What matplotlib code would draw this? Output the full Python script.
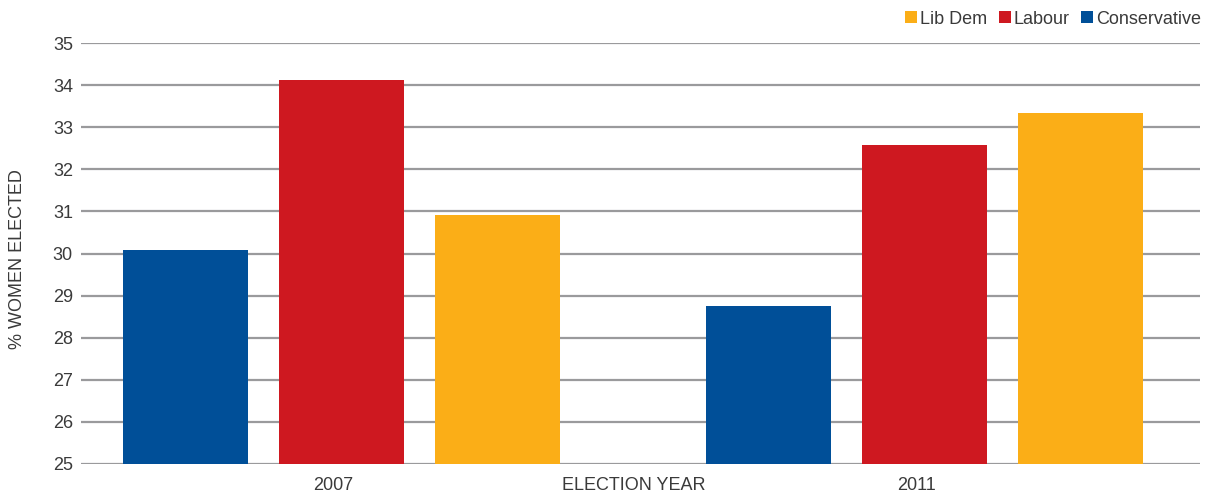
import matplotlib
matplotlib.use("Agg")
import matplotlib.pyplot as plt
from matplotlib.patches import Patch
import numpy as np

plt.rcParams['font.family'] = ['Liberation Sans', 'DejaVu Sans']

years = ['2007', '2011']
series = ['Conservative', 'Labour', 'Lib Dem']
conservative = [30.08, 28.75]
labour = [34.12, 32.58]
libdem = [30.91, 33.34]
yticks = list(range(25, 36))
colors = {'Conservative': '#004F98', 'Labour': '#CE1820', 'Lib Dem': '#FBAE17'}
values = {'Conservative': conservative, 'Labour': labour, 'Lib Dem': libdem}

TXT = '#3a3a3a'
FS = 13
fig = plt.figure(figsize=(12.15, 4.92), dpi=100)
ax = fig.add_axes([81/1215, 1-464/492, (1200-81)/1215, (464-43)/492])

x = np.arange(len(years))
offset = 0.2676
width = 0.2144
for i, s in enumerate(series):
    ax.bar(x + (i-1)*offset, [v-25 for v in values[s]], bottom=25, width=width,
           color=colors[s], zorder=3, linewidth=0)

ax.set_xlim(-0.4468, 1.4726)
ax.set_ylim(25, 35)
ax.set_yticks(yticks)
ax.set_yticklabels([str(t) for t in yticks], fontsize=FS, color=TXT)
ax.set_xticks(x - 0.014)
ax.set_xticklabels(years, fontsize=FS, color=TXT)
ax.tick_params(axis='both', length=0)
ax.tick_params(axis='y', pad=5.8)
ax.tick_params(axis='x', pad=9.2)
for sp in ax.spines.values():
    sp.set_visible(False)
for t in yticks:
    ax.axhline(t, color='#9a9a9c', lw=1.6, zorder=1)

fig.text(634/1215, 2/492, 'ELECTION YEAR', ha='center', va='baseline',
         fontsize=FS, color=TXT)
fig.text(18/1215, 1-259/492, '% WOMEN ELECTED', rotation=90, ha='center', va='center',
         fontsize=FS, color=TXT)

handles = [Patch(facecolor=colors[s], edgecolor='none', label=s) for s in ['Lib Dem', 'Labour', 'Conservative']]
leg = fig.legend(handles=handles, loc='center right', bbox_to_anchor=(1201/1215, 1-19/492),
                 ncol=3, frameon=False, handlelength=0.67, handleheight=0.67, handletextpad=0.15,
                 columnspacing=0.65, borderaxespad=0, borderpad=0,
                 prop={'size': FS})
for t in leg.get_texts():
    t.set_color(TXT)

fig.savefig('out.png', dpi=100)
